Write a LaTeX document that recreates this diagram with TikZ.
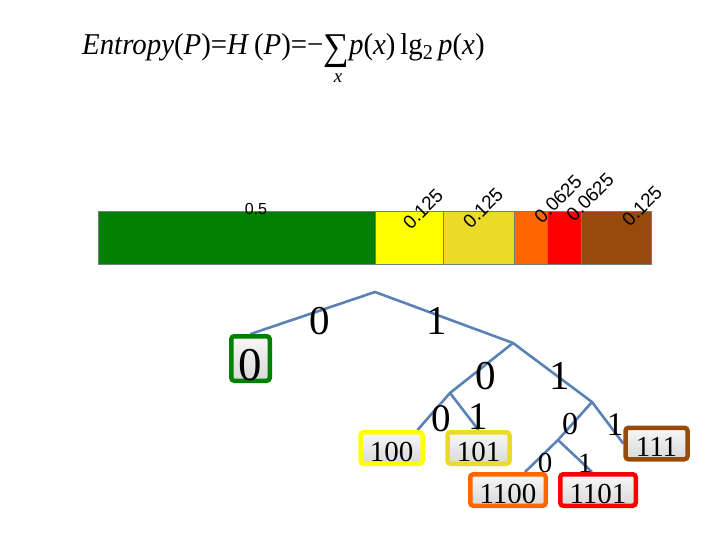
\documentclass[tikz,border=0pt]{standalone}
\usepackage{fontspec}
\setmainfont{Liberation Serif}
\setsansfont{Liberation Sans}
\usetikzlibrary{backgrounds}
\definecolor{cgreen}{HTML}{008000}
\definecolor{cyellow}{HTML}{FFFF00}
\definecolor{cgold}{HTML}{EBDB28}
\definecolor{corange}{HTML}{FF6600}
\definecolor{cred}{HTML}{FF0000}
\definecolor{cbrown}{HTML}{964B0C}
\definecolor{cedge}{HTML}{5A82B4}
\definecolor{cframe}{HTML}{6E8080}
\tikzset{
  every picture/.style={x=1pt, y=-1pt},
  seg/.style={draw=cframe, line width=0.8pt},
  code/.style={draw=#1, line width=4.5pt, rounded corners=3pt, top color=gray!6, bottom color=gray!30,
    inner sep=0pt, minimum width=62pt, minimum height=31.5pt, text height=26pt, text depth=0pt,
    font=\fontsize{29}{29}\selectfont},
  branch/.style={draw=cedge, line width=2.6pt},
  bit/.style={inner sep=0pt, font=\fontsize{#1}{#1}\selectfont},
  prob/.style={inner sep=0pt, font=\sffamily\fontsize{#1}{#1}\selectfont},
  prob/.default=19,
}

\begin{document}
\begin{tikzpicture}
  \useasboundingbox (0,0) rectangle (720,540);
  % formula
  \node[inner sep=0pt, anchor=base west] (entropy) at (82,55)
    {\scalebox{1.03}[1.08]{\fontsize{28}{28}\selectfont\textit{Entropy}(\textit{P})=\textit{H}\,(\textit{P})=−\raisebox{-4pt}{\fontsize{35}{35}\selectfont ∑}\textit{p}(\textit{x})\,lg\textsubscript{2}\,\textit{p}(\textit{x})}};
  \node[inner sep=0pt, font=\fontsize{19}{19}\selectfont\itshape] (sumx) at (338,78) {x};
  % probability bar
  \foreach \a/\b/\c in {98/375/cgreen, 375/443/cyellow, 443/514/cgold, 514/547/corange, 547/581/cred, 581/651/cbrown}
    \filldraw[seg, fill=\c] (\a,211) rectangle (\b,264);
  \node[prob=16] (p0) at (256,209) {0.5};
  \foreach \x/\y/\t [count=\i] in {423/209/0.125, 483/208/0.125, 558/199/0.0625, 590/197/0.0625, 642/206/0.125}
    \node[prob, rotate=45] (p\i) at (\x,\y) {\t};
  % code words
  \node[code=cgreen, minimum width=38.5pt, minimum height=44.5pt, text height=43pt, font=\fontsize{47}{47}\selectfont] (b0) at (250.5,358.5) {0};
  \node[code=cyellow] (b100) at (391.5,448) {100};
  \node[code=cgold] (b101) at (478.5,448) {101};
  \node[code=corange, minimum width=75.5pt] (b1100) at (508,490) {1100};
  \node[code=cred, minimum width=75.5pt] (b1101) at (598,490) {1101};
  \node[code=cbrown] (b111) at (656.5,443.5) {111};
  % tree
  \coordinate (r) at (375,292);
  \coordinate (n1) at (513,343);
  \coordinate (n10) at (450,393);
  \coordinate (n11) at (592,402);
  \coordinate (n110) at (558,440);
  \begin{scope}[on background layer]
    \draw[branch] (b0.north) -- (r) -- (n1) -- (n11) -- (b111.west);
    \draw[branch] (n1) -- (n10) -- ([xshift=26pt]b100.north);
    \draw[branch] (n10) -- (b101.north);
    \draw[branch] (n11) -- (n110) -- ([xshift=17pt]b1100.north);
    \draw[branch] (n110) -- ([xshift=-6pt]b1101.north);
  \end{scope}
  % branch bits
  \node[bit=41] (l0) at (320,321) {0};
  \node[bit=41] (l1) at (437,321) {1};
  \node[bit=41] (l10) at (486,376) {0};
  \node[bit=41] (l11) at (560,376) {1};
  \node[bit=39] (l100) at (441,419) {0};
  \node[bit=39] (l101) at (478,417) {1};
  \node[bit=32] (l110) at (570,424) {0};
  \node[bit=33] (l111) at (615,425) {1};
  \node[bit=29] (l1100) at (545,463) {0};
  \node[bit=28] (l1101) at (585,463) {1};
\end{tikzpicture}
\end{document}
